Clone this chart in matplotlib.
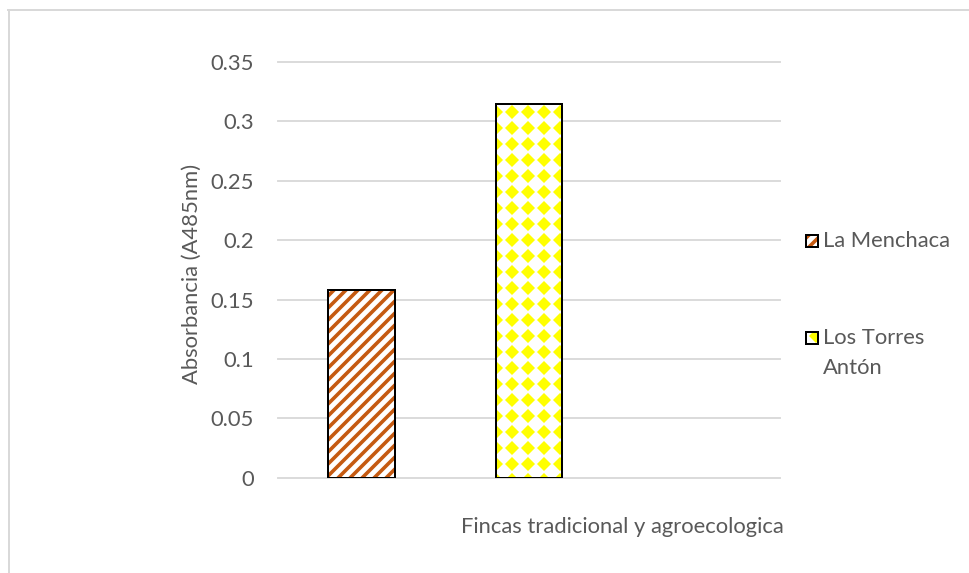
import numpy as np
import matplotlib
matplotlib.use('Agg')
import matplotlib.pyplot as plt
import matplotlib.hatch as mhatch
from matplotlib.path import Path
from matplotlib.patches import Rectangle
from matplotlib.lines import Line2D

# ---------------- data ----------------
series_names = ['La Menchaca', 'Los Torres\nAntón']
values = [0.158, 0.315]
positions = [0, 1]          # slots on the 3-slot category axis
yticks = [0, 0.05, 0.1, 0.15, 0.2, 0.25, 0.3, 0.35]
ytick_labels = ['0', '0.05', '0.1', '0.15', '0.2', '0.25', '0.3', '0.35']
x_title = 'Fincas tradicional y agroecologica'
y_title = 'Absorbancia (A485nm)'

# ---------------- style ----------------
W, H, DPI = 969, 573, 96
TXT = '#595959'
GRID = '#D9D9D9'
ORANGE = '#C55A11'
YELLOW = '#FFFF00'
FS = 16.5

plt.rcParams['font.family'] = ['Lato', 'DejaVu Sans']
plt.rcParams['hatch.linewidth'] = 2.7


# Excel-like pattern fills: wide upward diagonal and solid diamond
class WideUpDiagonal(mhatch.HatchPatternBase):
    def __init__(self, hatch, density):
        self.num_lines = hatch.count('/') * 16
        self.num_vertices = (self.num_lines + 1) * 2 if self.num_lines else 0

    def set_vertices_and_codes(self, vertices, codes):
        steps = np.linspace(-0.5, 0.5, self.num_lines + 1)
        vertices[0::2, 0] = 0.0 + steps
        vertices[0::2, 1] = 0.0 - steps
        vertices[1::2, 0] = 1.0 + steps
        vertices[1::2, 1] = 1.0 - steps
        codes[0::2] = Path.MOVETO
        codes[1::2] = Path.LINETO


class SolidDiamond(mhatch.HatchPatternBase):
    def __init__(self, hatch, density):
        self.n = hatch.count('*') * 6
        self.num_vertices = (self.n + 1) ** 2 * 5 if self.n else 0

    def set_vertices_and_codes(self, vertices, codes):
        step = 1.0 / self.n
        r = 0.28 * step
        shape = np.array([[0, -r], [r, 0], [0, r], [-r, 0], [0, -r]])
        c = [Path.MOVETO, Path.LINETO, Path.LINETO, Path.LINETO, Path.CLOSEPOLY]
        k = 0
        for i in range(self.n + 1):
            for j in range(self.n + 1):
                vertices[k:k + 5] = shape + (i * step, j * step)
                codes[k:k + 5] = c
                k += 5


mhatch._hatch_types[:] = [t for t in mhatch._hatch_types
                          if t not in (mhatch.NorthEastHatch, mhatch.Stars)] + [WideUpDiagonal, SolidDiamond]

hatches = ['/', '*']
hatch_colors = [ORANGE, YELLOW]

fig = plt.figure(figsize=(W / DPI, H / DPI), dpi=DPI)
L, R, T, B = 278, 780, 62, 477.7
ax = fig.add_axes([L / W, 1 - B / H, (R - L) / W, (B - T) / H])

for p, v, h, hc in zip(positions, values, hatches, hatch_colors):
    ax.bar(p, v, width=0.4, color='white', edgecolor=hc, hatch=h, linewidth=0, zorder=2)
    ax.bar(p, v, width=0.4, fill=False, edgecolor='black', linewidth=1.5, zorder=3)

ax.set_xlim(-0.5, 2.5)
ax.set_ylim(0, 0.35)
ax.set_yticks(yticks)
ax.set_yticklabels(ytick_labels)
ax.set_xticks([])
ax.tick_params(axis='y', length=0, pad=18, labelsize=FS, labelcolor=TXT)
for s in ax.spines.values():
    s.set_visible(False)
ax.yaxis.grid(True, color=GRID, linewidth=1.4)
ax.set_axisbelow(True)
for gl in ax.get_ygridlines():
    gl.set_clip_on(False)


def px(x, y):
    return x / W, 1 - y / H


fig.text(*px(622, 527), x_title, ha='center', va='center', fontsize=FS, color=TXT)
fig.text(*px(192, 274), y_title, ha='center', va='center', rotation=90, fontsize=FS, color=TXT)

# legend
leg_y = [241, 338]
text_y = [241, 353]
for name, h, hc, ly, ty in zip(series_names, hatches, hatch_colors, leg_y, text_y):
    x0, y0 = px(806, ly + 6)
    fig.patches.append(Rectangle((x0, y0), 12 / W, 12 / H, transform=fig.transFigure,
                                 facecolor='white', edgecolor=hc, hatch=h, linewidth=0))
    fig.patches.append(Rectangle((x0, y0), 12 / W, 12 / H, transform=fig.transFigure,
                                 fill=False, edgecolor='black', linewidth=1.5))
    fig.text(*px(823, ty), name, ha='left', va='center', fontsize=FS, color=TXT, linespacing=1.65)

# chart frame
fig.add_artist(Line2D([8.5 / W, 8.5 / W], [1 - 9.5 / H, 0], transform=fig.transFigure, color=GRID, lw=1.5))
fig.add_artist(Line2D([8 / W, 1], [1 - 9.5 / H, 1 - 9.5 / H], transform=fig.transFigure, color=GRID, lw=1.5))

fig.savefig('out.png', dpi=DPI)
